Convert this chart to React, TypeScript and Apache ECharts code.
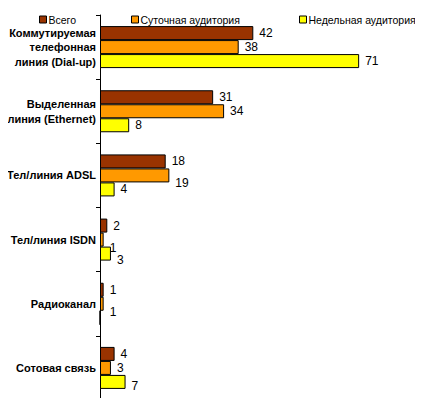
import { useEffect, useRef } from 'react';
import * as echarts from 'echarts';

const categories = [
  'Коммутируемая\nтелефонная\nлиния (Dial-up)',
  'Выделенная\nлиния (Ethernet)',
  'Тел/линия ADSL',
  'Тел/линия ISDN',
  'Радиоканал',
  'Сотовая связь'
];

const totalValues = [42, 31, 18, 2, 1, 4];
const dailyValues = [38, 34, 19, 1, 1, 3];
const weeklyValues = [71, 8, 4, 3, 0, 7];

const seriesNames = ['Всего', 'Суточная аудитория', 'Недельная аудитория'];
const seriesColors = ['#993300', '#FF9900', '#FFFF00'];
const legendLefts = [34, 126, 294];

// vertical nudges of value labels, as the original chart moved some of them
const labelShifts = [
  [0, 0, 0, 0, 0, 0],
  [0, 0, 8, 8, 8, 0],
  [0, 0, 0, 6, 0, 4]
];

const FONT = '"Liberation Sans", Arial, sans-serif';

const App = () => {
  const chartRef = useRef<HTMLDivElement>(null);

  useEffect(() => {
    if (!chartRef.current) return;
    const chart = echarts.init(chartRef.current, null, { renderer: 'svg' });

    const values = [totalValues, dailyValues, weeklyValues];

    const option = {
      animation: false,
      textStyle: { fontFamily: FONT },
      legend: seriesNames.map((name, i) => ({
        top: 9,
        left: legendLefts[i],
        itemWidth: 7,
        itemHeight: 7,
        icon: 'rect',
        selectedMode: false,
        textStyle: { fontFamily: FONT, fontSize: 10.5, color: '#000', padding: [0, 0, 0, -3] },
        data: [{ name, itemStyle: { color: seriesColors[i], borderColor: '#000', borderWidth: 1 } }]
      })),
      grid: { left: 100, top: 15, width: 292, height: 385, containLabel: false },
      xAxis: {
        type: 'value',
        min: 0,
        max: 80,
        show: false
      },
      yAxis: {
        type: 'category',
        inverse: true,
        data: categories,
        axisLine: { show: true, lineStyle: { color: '#000', width: 1 } },
        axisTick: { show: true, length: 4, lineStyle: { color: '#000' } },
        axisLabel: {
          fontFamily: FONT,
          fontSize: 11,
          fontWeight: 'bold',
          color: '#000',
          lineHeight: 14.5,
          margin: 4
        },
        splitLine: { show: false }
      },
      series: seriesNames.map((name, i) => ({
        name,
        type: 'bar',
        barWidth: 14,
        barGap: '0%',
        itemStyle: { color: seriesColors[i], borderColor: '#000', borderWidth: 1 },
        label: {
          show: true,
          position: 'right',
          distance: 6,
          fontFamily: FONT,
          fontSize: 12,
          color: '#000',
          formatter: (p: any) => (p.value ? String(p.value) : '')
        },
        data: values[i].map((v, j) => ({
          value: v,
          label: { offset: [0, labelShifts[i][j]] }
        }))
      }))
    };

    chart.setOption(option);
    return () => chart.dispose();
  }, []);

  return <div ref={chartRef} style={{ width: 423, height: 406, margin: -8 }} />;
};

export default App;
